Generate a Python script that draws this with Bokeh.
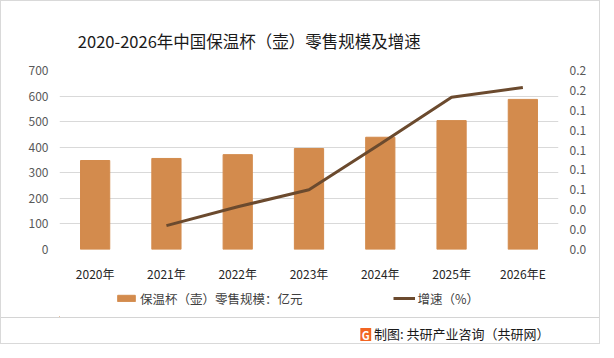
from bokeh.plotting import figure
from bokeh.layouts import column
from bokeh.models import (Range1d, FactorRange, LinearAxis, FixedTicker, NumeralTickFormatter,
                          Legend, LegendItem, ColumnDataSource)
from bokeh.core.properties import value
from bokeh.embed import file_html
from bokeh.resources import INLINE

years = ["2020年", "2021年", "2022年", "2023年", "2024年", "2025年", "2026年E"]
retail = [348, 356, 371, 395, 439, 504, 587]
growth_years = ["2021年", "2022年", "2023年", "2024年", "2025年", "2026年E"]
growth = [0.024, 0.043, 0.060, 0.106, 0.153, 0.163]
left_ticks = [0, 100, 200, 300, 400, 500, 600, 700]
right_ticks = [0.0, 0.02, 0.04, 0.06, 0.08, 0.10, 0.12, 0.14, 0.16, 0.18]

title_text = "2020-2026年中国保温杯（壶）零售规模及增速"
bar_label = "保温杯（壶）零售规模：亿元"
line_label = "增速（%）"
footer_text = "制图: 共研产业咨询（共研网）"

FONT = "Noto Sans CJK SC"
BAR_COLOR = "#D38B4D"
LINE_COLOR = "#6B4A2E"
GRID = "#D9D9D9"

W = 598
H_TITLE, H_MAIN, H_LEG, H_FOOT = 59, 227, 30, 26


def strip(height):
    s = figure(width=W, height=height, output_backend="svg", toolbar_location=None,
               x_range=Range1d(0, W), y_range=Range1d(0, height),
               x_axis_location=None, y_axis_location=None,
               min_border=0, min_border_left=0, min_border_right=0,
               min_border_top=0, min_border_bottom=0)
    s.grid.visible = False
    s.outline_line_color = None
    s.background_fill_color = "white"
    s.border_fill_color = "white"
    return s


# ---------------- title strip ----------------
t = strip(H_TITLE)
t.text(x=[22], y=[20], text=[title_text], text_font=value(FONT), text_font_size="16.5px",
       text_color="#1a1a1a", text_align="left", text_baseline="middle")

# ---------------- main chart ----------------
p = figure(width=W, height=H_MAIN, output_backend="svg", toolbar_location=None,
           x_range=FactorRange(*years, range_padding=0), y_range=Range1d(0, 700),
           min_border_left=58, min_border_right=41, min_border_top=10, min_border_bottom=38)
p.extra_y_ranges = {"g": Range1d(0, 0.18)}
p.outline_line_color = None
p.background_fill_color = "white"
p.border_fill_color = "white"

src = ColumnDataSource(dict(x=years, y=retail))
p.vbar(x="x", top="y", width=0.41, source=src, color=BAR_COLOR)
lsrc = ColumnDataSource(dict(x=growth_years, y=growth))
p.line(x="x", y="y", source=lsrc, y_range_name="g", line_color=LINE_COLOR, line_width=3)

p.xgrid.grid_line_color = None
p.ygrid.grid_line_color = GRID
p.ygrid.ticker = FixedTicker(ticks=left_ticks)

ry = LinearAxis(y_range_name="g", ticker=FixedTicker(ticks=right_ticks),
                formatter=NumeralTickFormatter(format="0.0"))
p.add_layout(ry, "right")

for ax in [p.xaxis[0], p.yaxis[0], ry]:
    ax.axis_line_color = None
    ax.major_tick_line_color = None
    ax.minor_tick_line_color = None
    ax.major_tick_out = 0
    ax.major_tick_in = 0
    ax.minor_tick_out = 0
    ax.minor_tick_in = 0
    ax.major_label_text_font = FONT

p.yaxis[0].ticker = FixedTicker(ticks=left_ticks)
for ax in [p.yaxis[0], ry]:
    ax.major_label_text_font_size = "12px"
    ax.major_label_text_color = "#595959"
    ax.major_label_standoff = 11

p.xaxis[0].major_label_text_font_size = "12px"
p.xaxis[0].major_label_text_color = "#262626"
p.xaxis[0].major_label_standoff = 15

# ---------------- legend strip ----------------
g = strip(H_LEG)
lb = g.vbar(x=[-1000], top=[1], width=1, color=BAR_COLOR)
ll = g.line(x=[-1000, -999], y=[0, 0], line_color=LINE_COLOR, line_width=3)
legend = Legend(items=[LegendItem(label=bar_label, renderers=[lb]),
                       LegendItem(label=line_label, renderers=[ll])],
                orientation="horizontal", location=(56, 9),
                padding=0, margin=0, spacing=90, label_standoff=3,
                glyph_width=22, glyph_height=8, label_height=20,
                label_text_font=FONT, label_text_font_size="12.5px", label_text_color="#404040",
                border_line_color=None, background_fill_alpha=0)
g.add_layout(legend, "center")

# ---------------- footer strip ----------------
h = strip(H_FOOT)
h.styles = {"border-top": "1px solid #D4D4D4"}
h.rect(x=[367], y=[10], width=[13], height=[13], fill_color="#F26522", line_color=None)
h.text(x=[367], y=[10], text=["G"], text_font=value(FONT), text_font_size="11px",
       text_font_style="bold", text_color="white", text_align="center", text_baseline="middle")
h.text(x=[377], y=[11], text=[footer_text], text_font=value(FONT), text_font_size="13px",
       text_color="#1a1a1a", text_align="left", text_baseline="middle")

layout = column(t, p, g, h, spacing=0)
layout.styles = {"border": "1px solid #D9D9D9"}

open("out.html", "w").write(file_html(layout, INLINE))
